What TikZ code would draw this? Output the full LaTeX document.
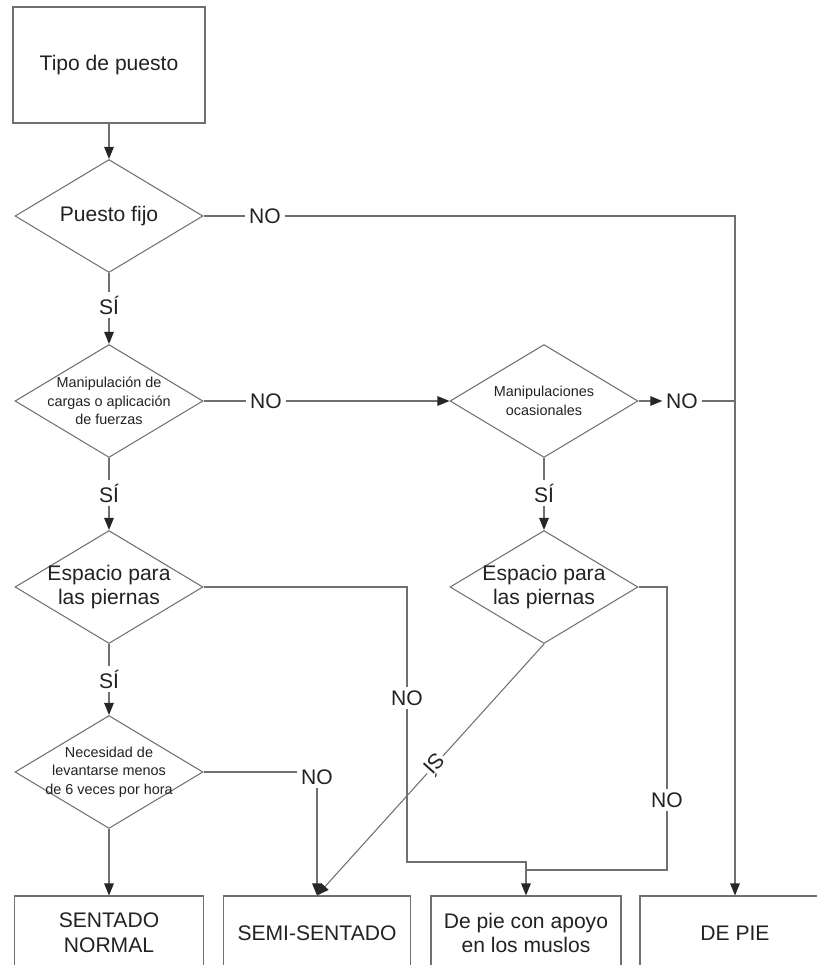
\documentclass[tikz,border=0pt]{standalone}
\usepackage{fontspec}
\setmainfont{Liberation Sans}
\usetikzlibrary{shapes.geometric,arrows.meta}

\definecolor{linegray}{HTML}{707070}
\definecolor{txtgray}{HTML}{222222}

\begin{document}
\begin{tikzpicture}[x=0.02cm, y=-0.02cm,
		line/.style = {draw=linegray, line width=0.6pt},
		arr/.style = {line, -{Triangle[length=0.24cm, width=0.19cm, color=black!85]}},
		bigtxt/.style = {font=\fontsize{12}{14}\selectfont, text=txtgray, align=center},
		smalltxt/.style = {font=\fontsize{8.2}{10.5}\selectfont, text=txtgray, align=center},
		lbl/.style = {bigtxt, inner sep=2pt},
		boxx/.style = {rectangle, line, bigtxt, minimum width=3.84cm, minimum height=2.32cm},
		rslt/.style = {rectangle, line, bigtxt, minimum width=3.78cm, minimum height=1.48cm},
		dcsn/.style args = {#1/#2}{%
			diamond, line, minimum width=3.76cm, minimum height=2.26cm,
			inner sep=0pt, label={[#1]center:#2}}
		]
		\useasboundingbox (0,0) rectangle (817,965);
		\clip (0,0) rectangle (817,965);
		\node (tipo) [boxx] at (109,65) {Tipo de puesto};
		\node (d1) [dcsn={bigtxt/Puesto fijo}] at (109,216) {};
		\node (d2) [dcsn={smalltxt/Manipulación de\\cargas o aplicación\\de fuerzas}] at (109,401) {};
		\node (d3) [dcsn={smalltxt/Manipulaciones\\ocasionales}] at (544,401) {};
		\node (d5) [dcsn={bigtxt/Espacio para\\las piernas}] at (109,587) {};
		\node (d4) [dcsn={bigtxt/Espacio para\\las piernas}] at (544,587) {};
		\node (d6) [dcsn={smalltxt/Necesidad de\\levantarse menos\\de 6 veces por hora}] at (109,772) {};
		\node (b1) [rslt] at (109,933) {SENTADO\\NORMAL};
		\node (b2) [rslt, minimum width=3.74cm] at (317,933) {SEMI-SENTADO};
		\node (b3) [rslt, minimum width=3.8cm] at (526,933) {De pie con apoyo\\en los muslos};
		\node (b4) [rslt, minimum width=3.8cm] at (735,933) {DE PIE};
		\node (no1) [lbl] at (265,216) {NO};
		\node (si1) [lbl] at (109,305) {SÍ};
		\node (no2) [lbl] at (266,401) {NO};
		\node (si2) [lbl] at (109,493) {SÍ};
		\node (no3) [lbl] at (682,401) {NO};
		\node (si3) [lbl] at (544,493) {SÍ};
		\node (si5) [lbl] at (109,679) {SÍ};
		\node (no5) [lbl] at (407,698) {NO};
		\node (no4) [lbl] at (667,800) {NO};
		\node (no6) [lbl] at (317,777) {NO};
		\coordinate (j5) at (407,862);
		\coordinate (j4) at (667,870);
		\foreach \from/\to in {d1/no1, d1/si1, d2/no2, d2/si2, d3/si3, d5/si5}
		\draw[line] (\from) -- (\to);
		\foreach \from/\to in {tipo/d1, si1/d2, si2/d5, no2/d3, d3/no3, si3/d4, si5/d6, no6/b2, d6/b1}
		\draw[arr] (\from) -- (\to);
		\draw[line] (d6.east) -- (d6.east -| no6.west);
		\draw[arr] (no1.east) -| (b4.north);
		\draw[line] (no3.east) -- (no3.east -| b4.north);
		\draw[line] (d5.east) -| (no5.north);
		\draw[arr] (no5.south) -- (j5) -| (b3.north);
		\draw[line] (d4.east) -| (no4.north);
		\draw[line] (no4.south) -- (j4) -- (j4 -| b3.north);
		\draw[arr] (d4.south) -- node (si4) [lbl, sloped, allow upside down, fill=white, inner sep=1pt, pos=0.48] {SÍ} (b2.north);
	\end{tikzpicture}
\end{document}
